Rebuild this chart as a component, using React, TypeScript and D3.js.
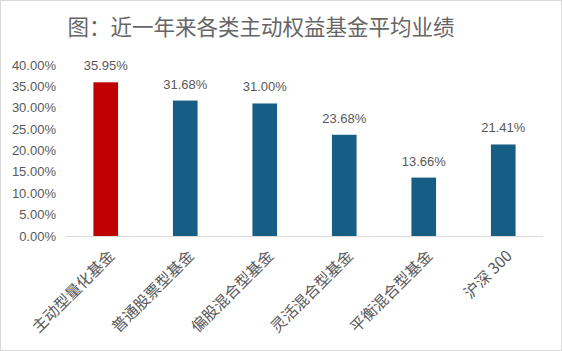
import React from 'react';
import * as d3 from 'd3';

const categories = ['主动型量化基金', '普通股票型基金', '偏股混合型基金', '灵活混合型基金', '平衡混合型基金', '沪深 300'];
const values = [35.95, 31.68, 31.0, 23.68, 13.66, 21.41];
const barColors = ['#C00000', '#175E84', '#175E84', '#175E84', '#175E84', '#175E84'];
const yTicks = [0, 5, 10, 15, 20, 25, 30, 35, 40];

const W = 562;
const H = 351;
const margin = { top: 65, right: 19, bottom: 115, left: 66 };

export default function App() {
  const innerW = W - margin.left - margin.right;
  const innerH = H - margin.top - margin.bottom;

  const x = d3.scaleBand<string>().domain(categories).range([0, innerW]).paddingInner(0.69).paddingOuter(0.345);
  const y = d3.scaleLinear().domain([0, 40]).range([innerH, 0]);
  const font = '"Liberation Sans", Arial, "Noto Sans CJK SC", sans-serif';
  const cjk = '"Noto Sans CJK SC", sans-serif';

  return (
    <div style={{ position: 'absolute', left: 0, top: 0 }}>
      <svg width={W} height={H} style={{ display: 'block', fontFamily: font }}>
        <rect x={0.5} y={0.5} width={W - 1} height={H - 1} fill="#fff" stroke="#D9D9D9" />
        {/* title sits a bit left of page centre, as in the source */}
        <text x={261} y={35} textAnchor="middle" fontSize={21.5} fill="#666666" fontFamily={cjk}>
          图：近一年来各类主动权益基金平均业绩
        </text>
        <g transform={`translate(${margin.left},${margin.top})`}>
          {yTicks.map(t => (
            <text key={t} x={-10} y={y(t)} dy="0.35em" textAnchor="end" fontSize={13} fill="#595959">
              {t.toFixed(2)}%
            </text>
          ))}
          {categories.map((c, i) => (
            <rect key={c} x={x(c)} y={y(values[i])} width={x.bandwidth()} height={innerH - y(values[i])} fill={barColors[i]} />
          ))}
          <line x1={0} x2={innerW} y1={innerH + 0.5} y2={innerH + 0.5} stroke="#D9D9D9" />
          {categories.map((c, i) => (
            <text key={c} x={(x(c) ?? 0) + x.bandwidth() / 2} y={y(values[i]) - 12} textAnchor="middle" fontSize={13} fill="#595959">
              {values[i].toFixed(2)}%
            </text>
          ))}
          {categories.map(c => {
            const cx = (x(c) ?? 0) + x.bandwidth() / 2 + 6;
            return (
              <text key={c} transform={`translate(${cx},${innerH + 17}) rotate(-45)`} textAnchor="end" dy="0.35em"
                fontSize={15.5} fill="#595959" fontFamily={cjk}>
                {c}
              </text>
            );
          })}
        </g>
      </svg>
    </div>
  );
}
